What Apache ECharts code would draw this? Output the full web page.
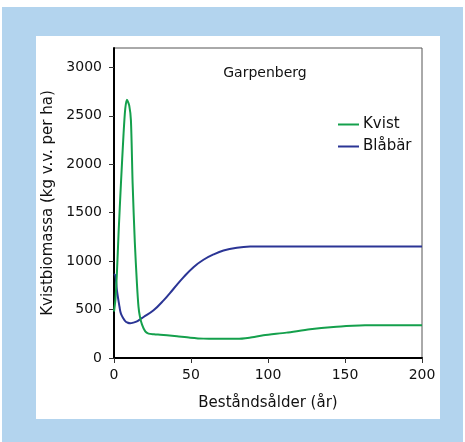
<!DOCTYPE html>
<html>
<head>
<meta charset="utf-8">
<script src="https://cdn.jsdelivr.net/npm/echarts@6/dist/echarts.min.js"></script>
<style>
  html, body { margin: 0; padding: 0; background: #ffffff; }
  #chart { width: 465px; height: 442px; }
</style>
</head>
<body>
<div id="chart"></div>
<script>
// Stand age (years) and twig biomass (kg fresh weight per ha), Garpenberg
const kvistAge = [0, 0.9, 1.9, 3.0, 4.5, 6.2, 7.3, 8.4, 9.9, 11.0, 12.1, 13.5, 14.9, 15.9, 16.8, 18.2, 20.3, 22.4, 26, 30, 34.4, 40.9, 49.5, 58.1, 66.8, 79.8, 88, 97, 112, 127.3, 142.5, 155, 163, 175, 200];
const kvistValues = [480, 600, 880, 1300, 1798, 2313, 2571, 2666, 2605, 2450, 1800, 1200, 767, 530, 430, 345, 275, 252, 245, 240, 234, 224, 210, 200, 198, 198, 210, 234, 262, 296, 320, 332, 337, 338, 338];

const blabarAge = [0, 0.9, 1.9, 3.6, 4.5, 6.2, 7.3, 8.5, 10.6, 12.5, 14.9, 17, 19.2, 25.7, 32.2, 38.7, 45.2, 51.6, 58.1, 64.6, 71.1, 79.8, 88.4, 100, 150, 200];
const blabarValues = [865, 850, 698, 526, 458, 406, 381, 367, 358, 365, 378, 400, 423, 492, 595, 715, 835, 938, 1014, 1069, 1110, 1138, 1150, 1152, 1150, 1150];

const xTicks = [0, 50, 100, 150, 200];
const yTicks = [0, 500, 1000, 1500, 2000, 2500, 3000];

const FONT = 'DejaVu Sans';

function pairs(xs, ys) { return xs.map((x, i) => [x, ys[i]]); }

const chart = echarts.init(document.getElementById('chart'));

chart.setOption({
  animation: false,
  textStyle: { fontFamily: FONT, color: '#111' },
  graphic: [
    { type: 'rect', z: -10, shape: { x: 2, y: 7, width: 461, height: 435 }, style: { fill: '#b3d4ee' } },
    { type: 'rect', z: -9, shape: { x: 36, y: 36, width: 404, height: 383 }, style: { fill: '#ffffff' } }
  ],
  title: {
    text: 'Garpenberg',
    left: 265,
    top: 66,
    padding: 0,
    textAlign: 'center',
    textStyle: { fontFamily: FONT, fontSize: 14, fontWeight: 'normal', color: '#111' }
  },
  legend: {
    orient: 'vertical',
    left: 338,
    top: 117,
    padding: 0,
    itemWidth: 21,
    itemHeight: 14,
    itemGap: 7,
    icon: 'path://M0,6 L21,6 L21,8 L0,8 Z',
    textStyle: { fontFamily: FONT, fontSize: 15, color: '#111', padding: [0, 0, 0, -1] },
    data: ['Kvist', 'Blåbär']
  },
  grid: {
    left: 114, right: 43, top: 48, bottom: 84,
    show: true,
    borderColor: '#555',
    borderWidth: 1,
    containLabel: false
  },
  xAxis: {
    type: 'value',
    min: 0, max: 200, interval: 50,
    name: 'Beståndsålder (år)',
    nameLocation: 'middle',
    nameGap: 38,
    nameTextStyle: { fontFamily: FONT, fontSize: 15, color: '#111' },
    axisLine: { onZero: false, lineStyle: { color: '#000', width: 2 } },
    axisTick: { show: true, length: 5, lineStyle: { color: '#333', width: 1 } },
    axisLabel: { margin: 10, fontFamily: FONT, fontSize: 14, color: '#111',
                 formatter: v => xTicks.includes(v) ? String(v) : '' },
    splitLine: { show: false }
  },
  yAxis: {
    type: 'value',
    min: 0, max: 3200, interval: 500,
    name: 'Kvistbiomassa (kg v.v. per ha)',
    nameLocation: 'middle',
    nameGap: 57,
    nameTextStyle: { fontFamily: FONT, fontSize: 15, color: '#111' },
    axisLine: { onZero: false, lineStyle: { color: '#000', width: 2 } },
    axisTick: { show: true, length: 5, lineStyle: { color: '#333', width: 1 } },
    axisLabel: { margin: 12, fontFamily: FONT, fontSize: 14, color: '#111',
                 showMaxLabel: false,
                 formatter: v => yTicks.includes(v) ? String(v) : '' },
    splitLine: { show: false }
  },
  series: [
    {
      name: 'Kvist',
      type: 'line',
      data: pairs(kvistAge, kvistValues),
      showSymbol: false,
      symbol: 'none',
      smooth: 0.25,
      lineStyle: { color: '#14a04c', width: 2 },
      itemStyle: { color: '#14a04c' },
      z: 3
    },
    {
      name: 'Blåbär',
      type: 'line',
      data: pairs(blabarAge, blabarValues),
      showSymbol: false,
      symbol: 'none',
      smooth: 0.4,
      lineStyle: { color: '#2b3595', width: 2 },
      itemStyle: { color: '#2b3595' },
      z: 2
    }
  ]
});
</script>
</body>
</html>
